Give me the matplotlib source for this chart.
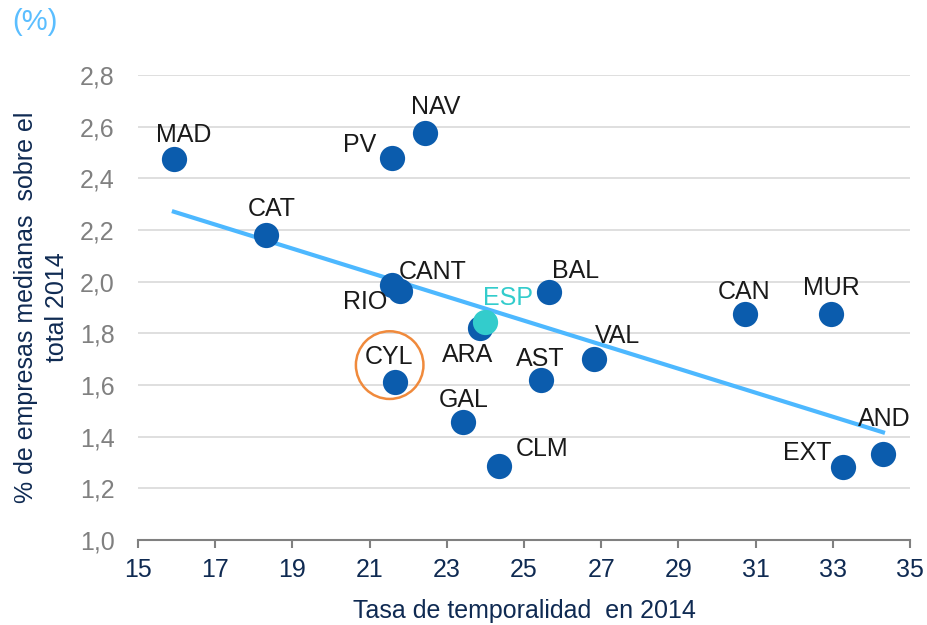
import numpy as np
import matplotlib.pyplot as plt
from matplotlib.patches import Ellipse

plt.rcParams['font.family'] = ['Liberation Sans', 'DejaVu Sans']

# data
regions = ['MAD', 'CAT', 'PV', 'NAV', 'RIO', 'CANT', 'ARA', 'CYL', 'GAL', 'CLM',
           'AST', 'BAL', 'VAL', 'CAN', 'MUR', 'EXT', 'AND']
temporalidad = [15.93, 18.31, 21.57, 22.43, 21.57, 21.80, 23.87, 21.65, 23.41, 24.34,
                25.43, 25.66, 26.82, 30.73, 32.96, 33.27, 34.30]
medianas = [2.475, 2.18, 2.48, 2.575, 1.987, 1.964, 1.82, 1.61, 1.457, 1.286,
            1.62, 1.96, 1.70, 1.875, 1.875, 1.283, 1.333]
esp_x, esp_y = 23.98, 1.844

# label offsets in points (dx, dy)
offsets = {
    'MAD': (7, 17), 'CAT': (4, 19), 'PV': (-23, 9), 'NAV': (8, 19),
    'RIO': (-19, -12), 'CANT': (23, 14), 'ARA': (-9, -19), 'CYL': (-4, 18),
    'GAL': (1, 16), 'CLM': (31, 12), 'AST': (0, 15), 'BAL': (19, 15),
    'VAL': (17, 17), 'CAN': (-1, 16), 'MUR': (0, 19), 'EXT': (-26, 10),
    'AND': (1, 25),
}

dot_color = '#0B5CAD'
navy = '#0F2A52'
fs = 18

fig = plt.figure(figsize=(9.28, 6.25), dpi=100)
ax = fig.add_axes([0.1487, 0.136, 0.8319, 0.744])

for y in np.arange(1.2, 2.81, 0.2):
    ax.axhline(y, color='#D9D9D9', lw=1.2, zorder=0)

# trend line over the regions
coef = np.polyfit(temporalidad, medianas, 1)
xs = np.array([min(temporalidad), max(temporalidad)])
ax.plot(xs, np.polyval(coef, xs), color='#4DB8FF', lw=3, zorder=2)

ax.scatter(temporalidad, medianas, s=330, color=dot_color, zorder=3, linewidths=0)
ax.scatter([esp_x], [esp_y], s=330, color='#33CCCC', zorder=4, linewidths=0)

for name, x, y in zip(regions, temporalidad, medianas):
    dx, dy = offsets[name]
    ax.annotate(name, (x, y), xytext=(dx, dy), textcoords='offset points',
                ha='center', va='center', fontsize=fs, color='#1A1A1A', zorder=5)
ax.annotate('ESP', (esp_x, esp_y), xytext=(17, 17), textcoords='offset points',
            ha='center', va='center', fontsize=fs, color='#33CCCC', zorder=5)

# highlight circle around CYL
ax.add_patch(Ellipse((21.52, 1.677), 1.75, 0.262, fill=False,
                     edgecolor='#F08A3C', lw=1.8, zorder=6))

ax.set_xlim(15, 35)
ax.set_ylim(1.0, 2.8)
ax.set_xticks(np.arange(15, 36, 2))
ax.set_yticks(np.arange(1.0, 2.81, 0.2))
ax.set_yticklabels([f'{v:.1f}'.replace('.', ',') for v in np.arange(1.0, 2.81, 0.2)])
ax.tick_params(axis='x', colors='#808080', labelcolor=navy, labelsize=fs,
               length=6, width=1.5, pad=7)
ax.tick_params(axis='y', colors='#808080', labelsize=fs, length=0, pad=17)

for side in ['top', 'right', 'left']:
    ax.spines[side].set_visible(False)
ax.spines['bottom'].set_color('#808080')
ax.spines['bottom'].set_linewidth(1.5)

ax.set_xlabel('Tasa de temporalidad  en 2014', fontsize=fs, color=navy, labelpad=12)
ax.set_ylabel('% de empresas medianas  sobre el\ntotal 2014', fontsize=fs,
              color=navy, labelpad=8, linespacing=1.35)

fig.text(0.013, 0.965, '(%)', fontsize=21, color='#5BBEFF', va='center')

fig.savefig('out.png', dpi=100)
